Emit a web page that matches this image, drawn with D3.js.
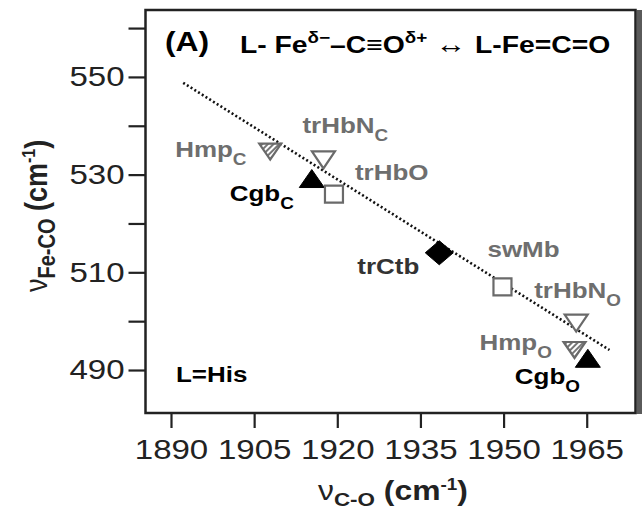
<!DOCTYPE html>
<html><head><meta charset="utf-8">
<script src="https://cdn.jsdelivr.net/npm/d3@7"></script>
<style>body{margin:0;background:#fff}svg{display:block}text{font-family:"Liberation Sans",Arial,sans-serif}</style>
</head><body><svg id="c" width="642" height="514"></svg>
<script>
// data
const names   = ["Hmp", "trHbN", "Cgb", "trHbO", "trCtb", "swMb", "trHbN", "Hmp", "Cgb"];
const subs    = ["C", "C", "C", "", "", "", "O", "O", "O"];
const nuCO    = [1907.9, 1917.5, 1915.4, 1919.4, 1938.4, 1949.8, 1963.1, 1962.8, 1965.2];
const nuFeCO  = [534.7, 533.0, 529.2, 526.0, 514.0, 507.0, 499.6, 494.1, 492.4];
const shapes  = ["hatchDown", "openDown", "fillUp", "openSquare", "fillDiamond", "openSquare", "openDown", "hatchDown", "fillUp"];
const labelColors = ["#6e6e6e", "#6e6e6e", "#000", "#6e6e6e", "#333", "#6e6e6e", "#6e6e6e", "#6e6e6e", "#000"];
const fitX = [1892.2, 1969.1];
const fitY = [548.8, 494.1];
const xTicks = [1890, 1905, 1920, 1935, 1950, 1965];
const yTicks = [490, 500, 510, 520, 530, 540, 550, 560];
const yLabeled = [490, 510, 530, 550];

// label anchor positions (pixel offsets relative to the point)
const labelPos = [[-95, 5], [-21, -27], [-82, 22], [21, -14], [-82, 21], [-15, -30], [-42, -25], [-95, 0], [-73, 26]];

const svg = d3.select("#c");
const L = 145.5, R = 635.5, T = 10, B = 413;
const x = d3.scaleLinear().domain([1885.4, 1973.8]).range([L, R]);
const y = d3.scaleLinear().domain([481.2, 563.7]).range([B, T]);
const SX = 1.18;

// defs: hatch pattern
const defs = svg.append("defs");
const pat = defs.append("pattern").attr("id", "hatch").attr("patternUnits", "userSpaceOnUse")
  .attr("width", 4).attr("height", 4).attr("patternTransform", "rotate(45)");
pat.append("rect").attr("width", 4).attr("height", 4).attr("fill", "#fff");
pat.append("rect").attr("width", 2).attr("height", 4).attr("fill", "#777");

// right shadow strip
svg.append("rect").attr("x", R + 1).attr("y", T).attr("width", 642 - R).attr("height", B - T + 1).attr("fill", "#5a5a5a");
// frame
svg.append("rect").attr("x", L).attr("y", T).attr("width", R - L).attr("height", B - T)
  .attr("fill", "#fff").attr("stroke", "#222").attr("stroke-width", 2.5);

// axes
const yAxis = d3.axisLeft(y).tickValues(yTicks).tickSize(17).tickPadding(4)
  .tickFormat(d => yLabeled.includes(d) ? d : "");
const gy = svg.append("g").attr("transform", `translate(${L},0)`).call(yAxis);
gy.select(".domain").remove();
gy.selectAll(".tick line").attr("stroke", "#222").attr("stroke-width", 2.2);
gy.selectAll(".tick text").attr("font-size", 28).attr("fill", "#222")
  .attr("x", 0).attr("transform", `translate(-21,0) scale(${SX},1)`);

const xAxis = d3.axisBottom(x).tickValues(xTicks).tickSize(15).tickPadding(11).tickFormat(d3.format("d"));
const gx = svg.append("g").attr("transform", `translate(0,${B})`).call(xAxis);
gx.select(".domain").remove();
gx.selectAll(".tick line").attr("stroke", "#222").attr("stroke-width", 2.2);
gx.selectAll(".tick text").attr("font-size", 28).attr("fill", "#222")
  .attr("transform", `scale(${SX},1)`);

// fit line
svg.append("line")
  .attr("x1", x(fitX[0])).attr("y1", y(fitY[0])).attr("x2", x(fitX[1])).attr("y2", y(fitY[1]))
  .attr("stroke", "#111").attr("stroke-width", 2.6).attr("stroke-dasharray", "2,2.4");

// markers
function shapePath(s) {
  switch (s) {
    case "hatchDown": return "M-11,-8L11,-8L0,8Z";
    case "openDown": return "M-11.5,-8.5L11.5,-8.5L0,8.5Z";
    case "fillUp": return "M0,-9L12.5,9L-12.5,9Z";
    case "openSquare": return "M-9,-8.5H9V8.5H-9Z";
    case "fillDiamond": return "M0,-12L14,0L0,12L-14,0Z";
  }
}
const pts = svg.append("g");
nuCO.forEach((v, i) => {
  const s = shapes[i];
  pts.append("path").attr("d", shapePath(s))
    .attr("transform", `translate(${x(v)},${y(nuFeCO[i])})`)
    .attr("fill", s.startsWith("hatch") ? "url(#hatch)" : s.startsWith("fill") ? "#000" : "#fff")
    .attr("stroke", s.startsWith("fill") ? "#000" : "#6a6a6a")
    .attr("stroke-width", s.startsWith("fill") ? 1 : 2.2);
});

// stretched text helper
function stext(px, py, opts) {
  const g = svg.append("g").attr("transform", `translate(${px},${py}) scale(${SX},1)`);
  return g.append("text").attr("font-size", opts.size || 22).attr("font-weight", opts.weight || "bold")
    .attr("fill", opts.color || "#000").attr("text-anchor", opts.anchor || "start");
}

// point labels
names.forEach((n, i) => {
  const px = x(nuCO[i]) + labelPos[i][0], py = y(nuFeCO[i]) + labelPos[i][1];
  const t = stext(px, py, {size: 22, color: labelColors[i]});
  t.append("tspan").text(n);
  if (subs[i]) t.append("tspan").attr("dy", 8).attr("font-size", 16).text(subs[i]);
});

// annotations
stext(165, 51, {size: 27}).text("(A)");
const tt = stext(240, 53, {size: 24});
tt.append("tspan").text("L- Fe");
tt.append("tspan").attr("dy", -10).attr("font-size", 16).text("δ−");
tt.append("tspan").attr("dy", 10).text("–C≡O");
tt.append("tspan").attr("dy", -10).attr("font-size", 16).text("δ+");
tt.append("tspan").attr("dy", 10).attr("font-size", 26).text(" ↔ ");
tt.append("tspan").attr("font-size", 24).text("L-Fe=C=O");
stext(176, 382, {size: 22}).text("L=His");

// axis titles
const xt = stext(318, 500, {size: 27, color: "#222"});
xt.append("tspan").attr("font-weight", "normal").text("ν");
xt.append("tspan").attr("dy", 6).attr("font-size", 19).text("C-O");
xt.append("tspan").attr("dy", -6).text(" (cm");
xt.append("tspan").attr("dy", -10).attr("font-size", 16).text("-1");
xt.append("tspan").attr("dy", 10).text(")");

const yg = svg.append("g").attr("transform", `translate(47,292) scale(${SX},1) rotate(-90)`);
const yt = yg.append("text").attr("font-size", 27).attr("font-weight", "bold").attr("fill", "#222");
yt.append("tspan").attr("font-weight", "normal").text("ν");
yt.append("tspan").attr("dy", 7).attr("font-size", 20).text("Fe-CO");
yt.append("tspan").attr("dy", -7).text(" (cm");
yt.append("tspan").attr("dy", -10).attr("font-size", 16).text("-1");
yt.append("tspan").attr("dy", 10).text(")");
</script></body></html>
